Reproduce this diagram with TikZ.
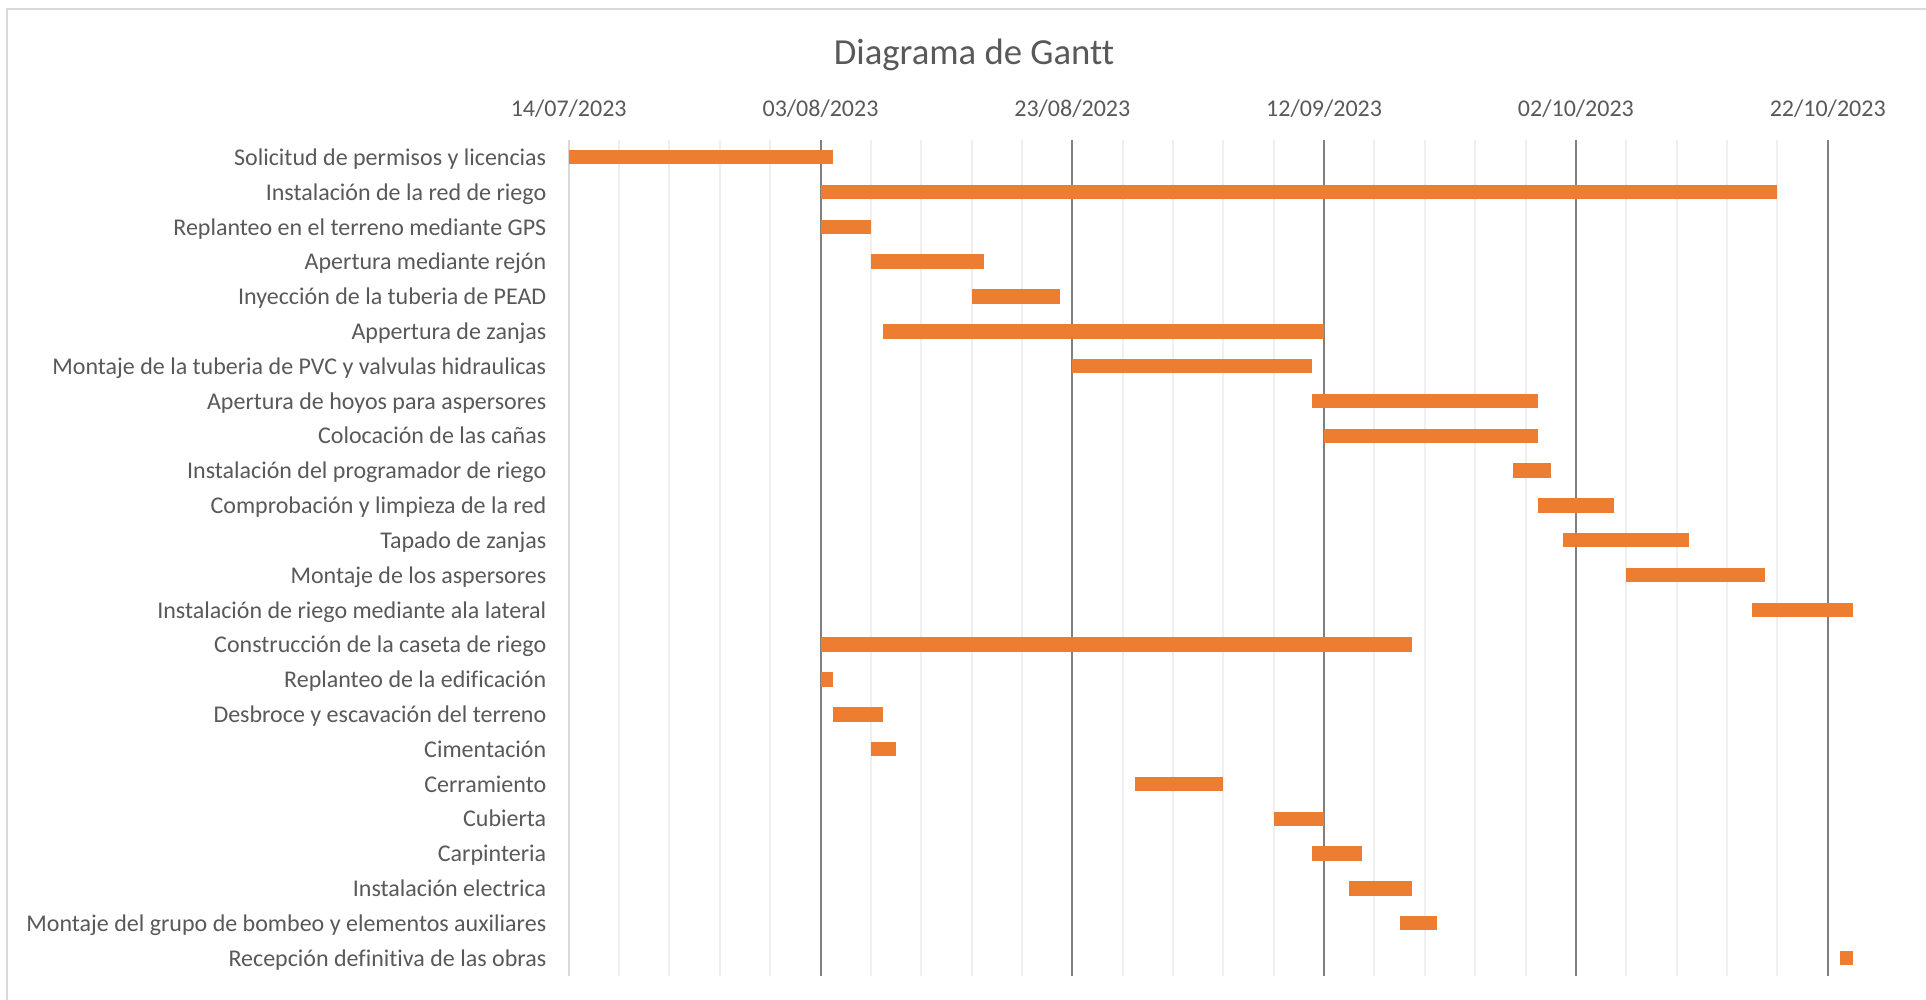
\documentclass[tikz,border=0pt]{standalone}
\usepackage{fontspec}
\setmainfont{Carlito}[Ligatures=NoCommon]
\definecolor{txt}{HTML}{595959}
\definecolor{barc}{HTML}{ED7D31}
\definecolor{majorc}{HTML}{808080}
\definecolor{minorc}{HTML}{EFEFEF}
\definecolor{axisc}{HTML}{D9D9D9}
\begin{document}
\begin{tikzpicture}[x=0.5pt,y=-0.5pt,
  lbl/.style={font=\fontsize{12}{14}\selectfont, text=txt, inner sep=0pt},
  datelbl/.style={font=\fontsize{12}{14}\selectfont, text=txt, inner sep=0pt, anchor=base},
  titlelbl/.style={font=\fontsize{18.35}{22}\selectfont, text=txt, inner sep=0pt, anchor=base},
  minorline/.style={draw=minorc, line width=1pt},
  majorline/.style={draw=majorc, line width=1pt},
  axisline/.style={draw=axisc, line width=1pt},
  ganttbar/.style={fill=barc}]
\useasboundingbox (0,0) rectangle (1926,1000);
\fill[white] (0,0) rectangle (1926,1000);
\draw[axisline] (7,1000) -- (7,9) -- (1926,9);

% title
\node[titlelbl] (title) at (974,65) {Diagrama de Gantt};

% minor gridlines
\foreach \d in {4,8,12,16,24,28,32,36,44,48,52,56,64,68,72,76,84,88,92,96}
  \draw[minorline] ({568.7+12.59*\d},140) -- ({568.7+12.59*\d},976);
% major gridlines
\foreach \d in {20,40,60,80,100}
  \draw[majorline] ({568.7+12.59*\d},140) -- ({568.7+12.59*\d},976);
% axis
\draw[axisline] (568.7,140) -- (568.7,976);

% date labels
\node[datelbl] (d0) at ({568.7+12.59*0},117) {14/07/2023};
\node[datelbl] (d1) at ({568.7+12.59*20},117) {03/08/2023};
\node[datelbl] (d2) at ({568.7+12.59*40},117) {23/08/2023};
\node[datelbl] (d3) at ({568.7+12.59*60},117) {12/09/2023};
\node[datelbl] (d4) at ({568.7+12.59*80},117) {02/10/2023};
\node[datelbl] (d5) at ({568.7+12.59*100},117) {22/10/2023};

% bars
\foreach \i/\s/\e in {1/0/21, 2/20/96, 3/20/24, 4/24/33, 5/32/39, 6/25/60,
  7/40/59, 8/59/77, 9/60/77, 10/75/78, 11/77/83, 12/79/89, 13/84/95,
  14/94/102, 15/20/67, 16/20/21, 17/21/25, 18/24/26, 19/45/52, 20/56/60,
  21/59/63, 22/62/67, 23/66/69, 24/101/102}
  \fill[ganttbar] ({568.7+12.59*\s},{157.2+34.82*(\i-1)-7.2}) rectangle ({568.7+12.59*\e},{157.2+34.82*(\i-1)+7.2});

% task labels
\foreach \i/\t in {1/Solicitud de permisos y licencias,
  2/Instalación de la red de riego,
  3/Replanteo en el terreno mediante GPS,
  4/Apertura mediante rejón,
  5/Inyección de la tuberia de PEAD,
  6/Appertura de zanjas,
  7/Montaje de la tuberia de PVC y valvulas hidraulicas,
  8/Apertura de hoyos para aspersores,
  9/Colocación de las cañas,
  10/Instalación del programador de riego,
  11/Comprobación y limpieza de la red,
  12/Tapado de zanjas,
  13/Montaje de los aspersores,
  14/Instalación de riego mediante ala lateral,
  15/Construcción de la caseta de riego,
  16/Replanteo de la edificación,
  17/Desbroce y escavación del terreno,
  18/Cimentación,
  19/Cerramiento,
  20/Cubierta,
  21/Carpinteria,
  22/Instalación electrica,
  23/Montaje del grupo de bombeo y elementos auxiliares,
  24/Recepción definitiva de las obras}
  \node[lbl, anchor=base east] (task\i) at (546.6,{157.2+34.82*(\i-1)+8.2}) {\t};
\end{tikzpicture}
\end{document}
